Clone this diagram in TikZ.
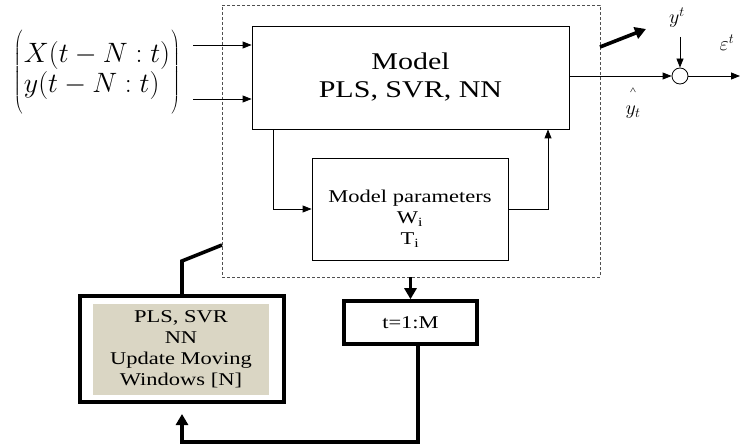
\RequirePackage{fix-cm}
\documentclass[tikz,border=0pt]{standalone}
\usepackage{fontspec}
\setmainfont{Liberation Serif}[FakeStretch=1.25]
\usetikzlibrary{arrows.meta}
\definecolor{beige}{RGB}{218,214,196}
\definecolor{dashgray}{RGB}{80,80,80}
\tikzset{
  thinbox/.style={draw, line width=0.8pt, inner sep=0pt, align=center},
  thickbox/.style={draw, line width=3.6pt, inner sep=0pt, align=center},
  arr/.style={-{Triangle[length=9pt,width=7pt]}, line width=0.8pt},
  thickarr/.style={-{Triangle[length=11pt,width=12pt]}, line width=3.6pt},
  thickline/.style={line width=3.6pt},
  big/.style={font=\fontsize{24}{28}\selectfont},
  mid/.style={font=\fontsize{18}{21}\selectfont},
  lab/.style={font=\fontsize{20}{22}\selectfont, inner sep=1pt},
}
\newcommand{\bigrule}{\rule[-31pt]{0pt}{80pt}}
\begin{document}
\begin{tikzpicture}[x=1pt,y=-1pt]
\useasboundingbox (0,0) rectangle (740,444);

% dashed frame
\node[draw=dashgray, dash pattern=on 3pt off 2pt, line width=0.9pt, inner sep=0pt,
      minimum width=378pt, minimum height=272pt] (dash) at (411,141) {};

% model box
\node[thinbox, big, minimum width=317pt, minimum height=103pt] (model) at (410.5,77.5)
  {Model\\PLS, SVR, NN};

% parameter box
\node[thinbox, minimum width=196pt, minimum height=102pt] (par) at (410,209) {};
\node[mid, align=center, inner sep=0pt] (partext) at (410,219)
  {Model parameters\\W\textsubscript{i}\\T\textsubscript{i}};

% loop between model and parameters
\draw[arr] ([xshift=-137.5pt]model.south) |- (par.west);
\draw[arr] (par.east) -| ([xshift=137.5pt]model.south);

% inputs
\node[font=\fontsize{28}{30}\selectfont, inner sep=0pt] (inp) at (97,72)
  {$\left(\bigrule\right.$\begin{tabular}{@{}l@{}}
     $X\bigl(t-N:t\bigr)$\\
     $y\bigl(t-N:t\bigr)$
   \end{tabular}$\left.\bigrule\right)$};
\coordinate (in1) at (193,45);
\coordinate (in2) at (193,99);
\draw[arr] (in1) -- (in1 -| model.west);
\draw[arr] (in2) -- (in2 -| model.west);

% output and comparison
\node[circle, draw, line width=0.8pt, minimum size=16pt, inner sep=0pt] (sum) at (680,76) {};
\draw[arr] (sum -| model.east) -- (sum.west);
\coordinate (out) at (740,76);
\draw[arr] (sum.east) -- (out);
\node[lab] (yt) at (677,18) {$y^{t}$};
\coordinate (ytop) at (680,37);
\draw[arr] (ytop) -- (sum.north);
\node[lab] (eps) at (727,43) {$\varepsilon^{t}$};
\node[lab, align=center] (yhat) at (633,103)
  {{\fontsize{10}{10}\selectfont\textasciicircum}\\[-2pt]$y_{t}$};

% thick arrow out of the frame
\coordinate (ta) at (600,47);
\coordinate (tb) at (646,29);
\draw[thickarr] (ta) -- (tb);

% loop counter
\node[thickbox, mid, minimum width=133pt, minimum height=43pt] (loop) at (410.5,322.5) {t=1:M};
\draw[thickarr] (loop.north |- dash.south) -- (loop.north);

% update box
\node[thickbox, line width=4pt, minimum width=204pt, minimum height=106pt] (upd) at (182,349) {};
\node[fill=beige, mid, align=center, inner sep=0pt, minimum width=176pt, minimum height=91pt]
  (updtext) at (181,349.5) {PLS, SVR\\NN\\Update Moving\\Windows [N]};

% feedback path
\draw[thickarr] ([xshift=7.5pt]loop.south) |- ([yshift=-38pt]upd.south) -- ([yshift=-10pt]upd.south);

% connector from update box to frame
\coordinate (kk) at (182,261);
\coordinate (kink) at (222,245);
\draw[thickline] (upd.north) -- (kk) -- (kink);
\end{tikzpicture}
\end{document}
